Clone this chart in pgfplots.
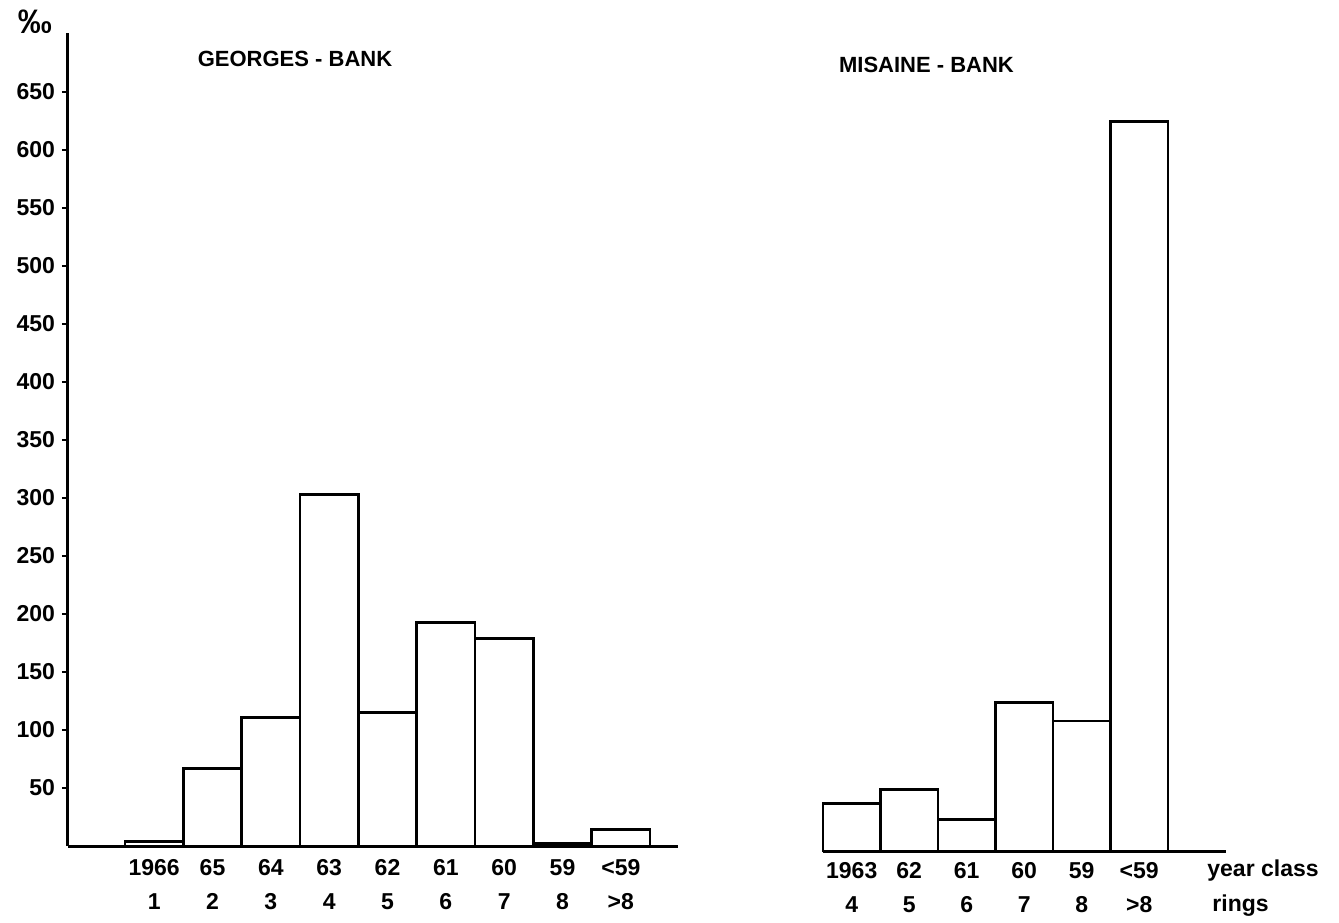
\documentclass[border=0pt]{standalone}
\usepackage{fontspec}
\setmainfont{Liberation Sans}
\usepackage{pgfplots}
\usepackage{pgfplotstable}
\pgfplotsset{compat=1.18}

\pgfplotstableread{
x y
1 4
2 67
3 111
4 303
5 115
6 193
7 179
8 2
9 14
}\georges
\pgfplotstableread{
x y
4 41
5 53
6 27
7 128
8 112
9 629
}\misaine

\newcommand\lblfont{\bfseries\fontsize{11.5}{17}\selectfont}

\begin{document}
\begin{tikzpicture}
\path[use as bounding box] (0,0) rectangle (669.5pt,461pt);
\begin{axis}[
  at={(34pt,38pt)}, anchor=south west, scale only axis,
  width=305pt, height=406.5pt,
  xmin=-0.478, xmax=9.98, ymin=0, ymax=700.9,
  axis x line=bottom, axis y line=left,
  axis line style={-, line width=1.5pt, black},
  ytick={50,100,...,650},
  xtick={1,...,9},
  xticklabels={{1966\\1},{65\\2},{64\\3},{63\\4},{62\\5},{61\\6},{60\\7},{59\\8},{<59\\>8}},
  x tick style={draw=none},
  y tick style={line width=1.3pt, black},
  tick align=outside, major tick length=3pt,
  /pgf/number format/assume math mode=true,
  ticklabel style={font=\lblfont},
  xticklabel style={align=center},
  clip=false,
]
\addplot[ybar, bar width=1, draw=black, fill=white, line width=1.4pt] table[x=x,y=y]{\georges};
\end{axis}

\begin{axis}[
  at={(411.5pt,35.5pt)}, anchor=south west, scale only axis,
  width=201.5pt, height=406.5pt,
  xmin=3.5, xmax=10.51, ymin=0, ymax=700.9,
  axis x line=bottom, axis y line=none,
  axis line style={-, line width=1.5pt, black},
  xtick={4,...,9},
  xticklabels={{1963\\4},{62\\5},{61\\6},{60\\7},{59\\8},{<59\\>8}},
  x tick style={draw=none},
  ticklabel style={font=\lblfont},
  xticklabel style={align=center},
  clip=false,
]
\addplot[ybar, bar width=1, draw=black, fill=white, line width=1.4pt] table[x=x,y=y]{\misaine};
\end{axis}

\node[font=\bfseries\fontsize{11}{13}\selectfont] at (147.5pt,431.5pt) {GEORGES - BANK};
\node[font=\bfseries\fontsize{11}{13}\selectfont] at (463.25pt,428.5pt) {MISAINE - BANK};
\node[font=\bfseries\fontsize{17}{19}\selectfont] at (17.5pt,450pt) {‰};
\node[font=\lblfont, anchor=west, inner sep=0pt] at (603.5pt,25.5pt) {year class};
\node[font=\lblfont, anchor=west, inner sep=0pt] at (606pt,8pt) {rings};
\end{tikzpicture}
\end{document}
